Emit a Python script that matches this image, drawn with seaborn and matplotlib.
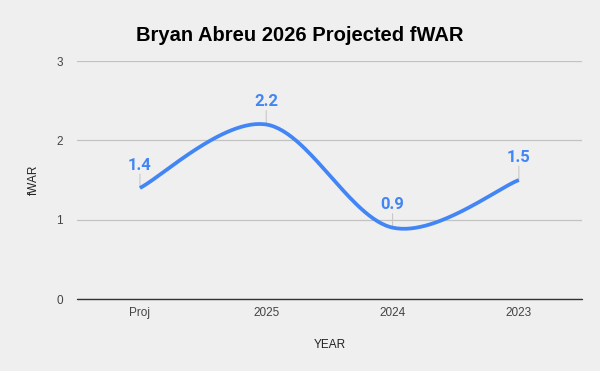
import numpy as np
import pandas as pd
import matplotlib.pyplot as plt
import seaborn as sns

# chart data
years = ['Proj', '2025', '2024', '2023']
fwar = [1.4, 2.2, 0.9, 1.5]
y_ticks = [0, 1, 2, 3]

blue = '#4285F4'
bg = '#efefef'

sns.set_theme(style='white')
plt.rcParams['font.family'] = ['Liberation Sans', 'DejaVu Sans']

fig = plt.figure(figsize=(6.0, 3.71), dpi=100, facecolor=bg)
ax = fig.add_axes([0.128, 0.194, 0.842, 0.6415])
ax.set_facecolor(bg)

# smooth the line between the points (Catmull-Rom style, like Sheets' smooth line)
xs = np.arange(len(fwar), dtype=float)
ys = np.array(fwar, dtype=float)
px = np.concatenate([[xs[0]], xs, [xs[-1]]])
py = np.concatenate([[ys[0]], ys, [ys[-1]]])
sx, sy = [], []
for i in range(len(xs) - 1):
    p0, p1, p2, p3 = py[i], py[i + 1], py[i + 2], py[i + 3]
    x0, x1, x2, x3 = px[i], px[i + 1], px[i + 2], px[i + 3]
    t = np.linspace(0, 1, 60)
    m1y, m2y = (p2 - p0) / 2, (p3 - p1) / 2
    m1x, m2x = (x2 - x0) / 2, (x3 - x1) / 2
    h00 = 2 * t**3 - 3 * t**2 + 1
    h10 = t**3 - 2 * t**2 + t
    h01 = -2 * t**3 + 3 * t**2
    h11 = t**3 - t**2
    sx.extend(h00 * x1 + h10 * m1x + h01 * x2 + h11 * m2x)
    sy.extend(h00 * p1 + h10 * m1y + h01 * p2 + h11 * m2y)
curve = pd.DataFrame({'x': sx, 'y': sy})

sns.lineplot(data=curve, x='x', y='y', ax=ax, color=blue, linewidth=2.7,
             sort=False, solid_capstyle='butt', zorder=3)

# value labels with small leader lines
for x, v in zip(xs, fwar):
    ax.annotate('', xy=(x, v), xytext=(0, 10), textcoords='offset points',
                arrowprops=dict(arrowstyle='-', color='#c8c8c8', lw=0.8,
                                shrinkA=0, shrinkB=0), zorder=2)
    ax.annotate(f'{v:.1f}', xy=(x, v), xytext=(0, 11), textcoords='offset points',
                ha='center', va='bottom', color=blue, fontsize=12,
                fontweight='bold', family=['Roboto', 'DejaVu Sans'])

ax.set_xlim(-0.5, len(years) - 0.5)
ax.set_ylim(0, 3)
ax.set_xticks(xs)
ax.set_xticklabels(years)
ax.set_yticks(y_ticks)
ax.set_yticklabels([str(t) for t in y_ticks])
ax.tick_params(axis='both', length=0, labelsize=8.5, labelcolor='#444444')
ax.tick_params(axis='x', pad=6)
ax.tick_params(axis='y', pad=10)

ax.grid(axis='y', color='#c2c2c2', linewidth=0.9, zorder=0)
ax.set_axisbelow(True)
ax.axhline(0, color='#333333', linewidth=1.0, zorder=2.5, clip_on=False)
for s in ax.spines.values():
    s.set_visible(False)

ax.set_xlabel('YEAR', fontsize=8.5, color='#222222', labelpad=14)
ax.set_ylabel('fWAR', fontsize=8.5, color='#222222', labelpad=12)
fig.suptitle('Bryan Abreu 2026 Projected fWAR', x=0.5, y=0.93,
             fontsize=14.5, fontweight='bold', color='#000000')

fig.savefig('out.png', dpi=100, facecolor=bg)
